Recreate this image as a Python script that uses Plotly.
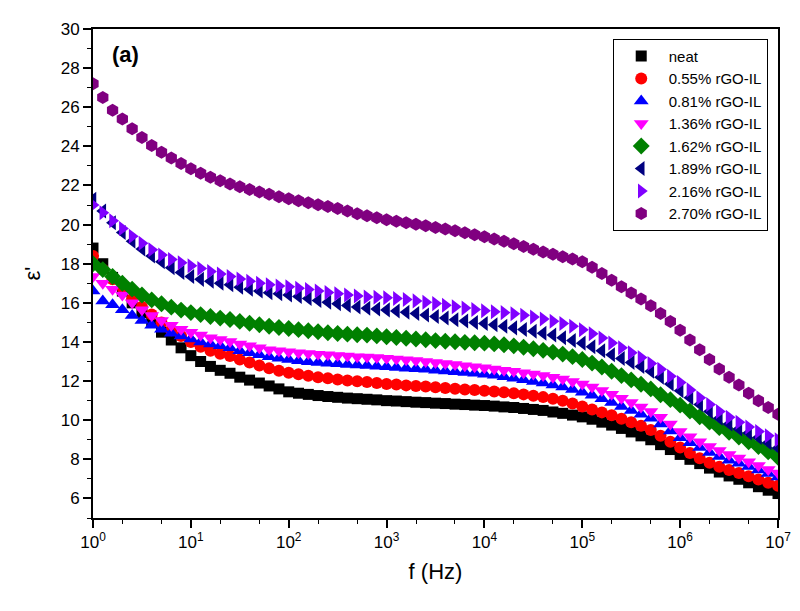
import numpy as np
import plotly.graph_objects as go

# frequency grid: 10 points per decade, 10^0 .. 10^7 Hz
freq = np.logspace(0, 7, 71)

series_names = ["neat", "0.55% rGO-IL", "0.81% rGO-IL", "1.36% rGO-IL",
                "1.62% rGO-IL", "1.89% rGO-IL", "2.16% rGO-IL", "2.70% rGO-IL"]

eps_neat = [18.8, 18.0, 17.3, 16.6, 16.0, 15.5, 15.0, 14.5, 14.1, 13.7,
            13.3, 13.0, 12.75, 12.55, 12.4, 12.2, 12.05, 11.9, 11.75, 11.6,
            11.45, 11.38, 11.32, 11.26, 11.21, 11.17, 11.13, 11.1, 11.07, 11.04,
            11.0, 10.98, 10.95, 10.92, 10.9, 10.87, 10.85, 10.82, 10.8, 10.77,
            10.75, 10.72, 10.68, 10.65, 10.6, 10.55, 10.5, 10.42, 10.35, 10.26,
            10.17, 10.05, 9.9, 9.75, 9.58, 9.4, 9.2, 9.0, 8.75, 8.5,
            8.25, 8.0, 7.78, 7.55, 7.35, 7.15, 6.98, 6.8, 6.6, 6.42, 6.25]

eps_055 = [18.4, 17.7, 17.2, 16.8, 16.2, 15.8, 15.4, 15.0, 14.6, 14.3,
           14.0, 13.75, 13.55, 13.4, 13.28, 13.1, 12.95, 12.8, 12.65, 12.53,
           12.43, 12.35, 12.27, 12.2, 12.14, 12.08, 12.03, 11.99, 11.95, 11.9,
           11.85, 11.82, 11.78, 11.75, 11.72, 11.68, 11.65, 11.61, 11.57, 11.54,
           11.5, 11.47, 11.43, 11.38, 11.32, 11.25, 11.18, 11.1, 11.0, 10.85,
           10.7, 10.55, 10.4, 10.25, 10.08, 9.9, 9.72, 9.5, 9.2, 8.9,
           8.6, 8.32, 8.05, 7.83, 7.62, 7.45, 7.3, 7.13, 6.97, 6.8, 6.65]

eps_081 = [16.6, 16.1, 15.9, 15.65, 15.35, 15.1, 14.85, 14.65, 14.45, 14.3,
           14.15, 14.0, 13.9, 13.8, 13.7, 13.55, 13.45, 13.35, 13.25, 13.17,
           13.1, 13.04, 12.99, 12.95, 12.91, 12.88, 12.85, 12.82, 12.8, 12.76,
           12.73, 12.7, 12.66, 12.63, 12.6, 12.56, 12.52, 12.48, 12.44, 12.4,
           12.35, 12.3, 12.22, 12.15, 12.07, 11.98, 11.9, 11.8, 11.7, 11.57,
           11.43, 11.28, 11.1, 10.9, 10.7, 10.5, 10.3, 10.1, 9.8, 9.45,
           9.1, 8.85, 8.6, 8.35, 8.15, 7.95, 7.8, 7.63, 7.45, 7.27, 7.1]

eps_136 = [17.35, 17.0, 16.7, 16.4, 16.0, 15.65, 15.35, 15.1, 14.85, 14.65,
           14.5, 14.35, 14.22, 14.12, 14.02, 13.9, 13.8, 13.7, 13.6, 13.55,
           13.5, 13.45, 13.41, 13.37, 13.34, 13.31, 13.28, 13.25, 13.23, 13.2,
           13.17, 13.13, 13.09, 13.05, 13.0, 12.95, 12.9, 12.85, 12.79, 12.73,
           12.68, 12.62, 12.56, 12.5, 12.43, 12.36, 12.28, 12.2, 12.1, 11.98,
           11.85, 11.7, 11.52, 11.33, 11.12, 10.9, 10.68, 10.45, 10.15, 9.8,
           9.42, 9.15, 8.9, 8.65, 8.45, 8.25, 8.07, 7.88, 7.68, 7.48, 7.3]

eps_162 = [18.0, 17.7, 17.35, 17.0, 16.7, 16.4, 16.15, 15.95, 15.78, 15.63,
           15.5, 15.4, 15.3, 15.22, 15.15, 15.05, 14.96, 14.88, 14.8, 14.74,
           14.69, 14.63, 14.57, 14.52, 14.47, 14.43, 14.4, 14.37, 14.35, 14.31,
           14.27, 14.23, 14.19, 14.15, 14.11, 14.07, 14.04, 14.01, 13.98, 13.96,
           13.94, 13.9, 13.86, 13.8, 13.73, 13.65, 13.57, 13.48, 13.38, 13.25,
           13.1, 12.92, 12.72, 12.5, 12.28, 12.06, 11.84, 11.6, 11.3, 11.05,
           10.77, 10.47, 10.18, 9.9, 9.62, 9.38, 9.14, 8.9, 8.65, 8.38, 8.1]

eps_189 = [21.3, 20.7, 20.1, 19.6, 19.15, 18.75, 18.4, 18.1, 17.8, 17.55,
           17.35, 17.2, 17.1, 17.0, 16.92, 16.8, 16.7, 16.6, 16.52, 16.46,
           16.4, 16.32, 16.22, 16.12, 16.03, 15.95, 15.87, 15.79, 15.72, 15.68,
           15.64, 15.58, 15.52, 15.45, 15.38, 15.3, 15.22, 15.14, 15.07, 15.0,
           14.94, 14.88, 14.8, 14.72, 14.64, 14.55, 14.45, 14.35, 14.22, 14.08,
           13.94, 13.75, 13.55, 13.35, 13.15, 12.95, 12.75, 12.5, 12.2, 11.85,
           11.5, 11.15, 10.8, 10.45, 10.1, 9.8, 9.55, 9.35, 9.12, 8.85, 8.58]

eps_216 = [21.0, 20.6, 20.2, 19.8, 19.4, 19.05, 18.72, 18.45, 18.22, 18.05,
           17.9, 17.75, 17.6, 17.47, 17.35, 17.22, 17.1, 17.0, 16.92, 16.86,
           16.82, 16.75, 16.68, 16.6, 16.53, 16.46, 16.4, 16.35, 16.3, 16.28,
           16.26, 16.22, 16.17, 16.1, 16.03, 15.96, 15.88, 15.8, 15.73, 15.66,
           15.6, 15.55, 15.5, 15.44, 15.36, 15.27, 15.17, 15.06, 14.94, 14.8,
           14.62, 14.42, 14.2, 13.95, 13.7, 13.45, 13.2, 12.9, 12.6, 12.25,
           11.93, 11.55, 11.15, 10.8, 10.45, 10.15, 9.9, 9.65, 9.42, 9.2, 9.0]

eps_270 = [27.2, 26.5, 25.85, 25.4, 24.9, 24.45, 24.05, 23.7, 23.4, 23.12,
           22.85, 22.62, 22.42, 22.24, 22.08, 21.93, 21.8, 21.67, 21.55, 21.43,
           21.32, 21.22, 21.12, 21.02, 20.92, 20.82, 20.7, 20.56, 20.45, 20.35,
           20.25, 20.17, 20.1, 20.02, 19.94, 19.85, 19.77, 19.68, 19.58, 19.48,
           19.38, 19.27, 19.15, 19.02, 18.88, 18.74, 18.6, 18.48, 18.36, 18.24,
           18.1, 17.82, 17.5, 17.16, 16.82, 16.5, 16.2, 15.85, 15.45, 15.05,
           14.6, 14.1, 13.6, 13.1, 12.62, 12.2, 11.8, 11.38, 11.0, 10.65, 10.3]

x_tick_vals = [1, 10, 100, 1000, 10000, 100000, 1000000, 10000000]
x_tick_text = ["10<sup>0</sup>", "10<sup>1</sup>", "10<sup>2</sup>", "10<sup>3</sup>",
               "10<sup>4</sup>", "10<sup>5</sup>", "10<sup>6</sup>", "10<sup>7</sup>"]

all_eps = [eps_neat, eps_055, eps_081, eps_136, eps_162, eps_189, eps_216, eps_270]
colors = ["#000000", "#FF0000", "#0000FF", "#FF00FF", "#008000", "#000080", "#8000FF", "#800080"]
symbols = ["square", "circle", "triangle-up", "triangle-down", "diamond",
           "triangle-left", "triangle-right", "hexagon"]
sizes = [11, 12, 13, 13, 13, 13, 13, 13]

FONT = "Arial, Liberation Sans, sans-serif"

fig = go.Figure()
for name, ys, c, s, sz in zip(series_names, all_eps, colors, symbols, sizes):
    fig.add_trace(go.Scatter(
        x=freq, y=ys, mode="markers", name=name,
        marker=dict(color=c, symbol=s, size=sz, line=dict(width=0)),
    ))

fig.update_layout(
    width=800, height=611,
    margin=dict(l=85, r=30, t=12, b=101),
    paper_bgcolor="white", plot_bgcolor="white",
    font=dict(family=FONT, color="black", size=17),
    legend=dict(
        x=0.985, y=0.98, xanchor="right", yanchor="top",
        bordercolor="black", borderwidth=1, bgcolor="white",
        font=dict(family=FONT, size=15, color="black"),
        itemwidth=45, tracegroupgap=0,
    ),
    annotations=[dict(
        x=0.025, y=0.978, xref="paper", yref="paper", xanchor="left", yanchor="top",
        text="<b>(a)</b>", showarrow=False, font=dict(family=FONT, size=22, color="black"),
    )],
)

fig.update_xaxes(
    type="log", range=[0, 7],
    tickvals=x_tick_vals, ticktext=x_tick_text,
    ticks="outside", ticklen=8, tickwidth=1.5, tickcolor="black",
    showline=True, linecolor="black", linewidth=2, mirror=True,
    showgrid=False, zeroline=False,
    minor=dict(ticks="outside", ticklen=4, tickwidth=1.2, tickcolor="black", showgrid=False),
    tickfont=dict(family=FONT, size=17),
    title=dict(text="f (Hz)", font=dict(family=FONT, size=22), standoff=12),
)
fig.update_yaxes(
    range=[5, 30], dtick=2, tick0=0,
    ticks="outside", ticklen=8, tickwidth=1.5, tickcolor="black",
    showline=True, linecolor="black", linewidth=2, mirror=True,
    showgrid=False, zeroline=False,
    minor=dict(ticks="outside", ticklen=4, tickwidth=1.2, tickcolor="black", dtick=1, showgrid=False),
    tickfont=dict(family=FONT, size=17),
    title=dict(text="ε'", font=dict(family=FONT, size=22), standoff=14),
)

fig.write_html("out.html")
